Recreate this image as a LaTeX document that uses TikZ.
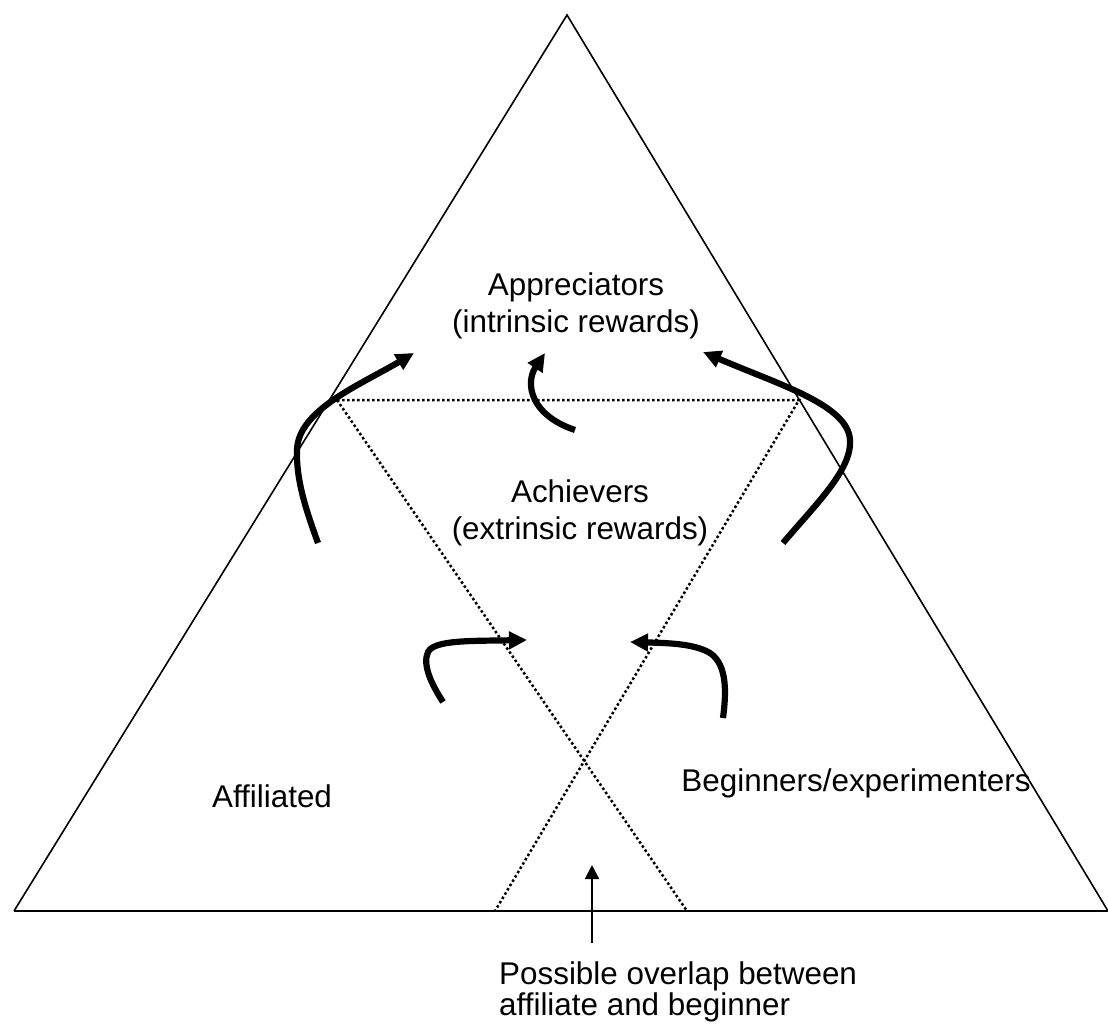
\documentclass[tikz,border=0pt]{standalone}
\usepackage{fontspec}
\setmainfont{Liberation Sans}
\usetikzlibrary{arrows.meta}
\begin{document}
\begin{tikzpicture}[x=1pt,y=-1pt,
  edge/.style={line width=1.6pt, line join=miter},
  ground/.style={line width=2.2pt},
  zone/.style={line width=2.5pt, dash pattern=on 2.5pt off 2.5pt},
  flow/.style={line width=6.2pt, -{Triangle[length=18pt,width=17pt]}},
  pointer/.style={line width=2pt, -{Triangle[length=14pt,width=14pt]}},
  label/.style={font=\fontsize{31.4}{36.7}\selectfont, inner sep=0pt, align=center, anchor=base}]
\useasboundingbox (0,0) rectangle (1108,1023);

% outer triangle: two sides and a heavier base line
\coordinate (apex) at (567,15);
\coordinate (bl) at (14,911);
\coordinate (br) at (1108,911);
\draw[edge] (bl) -- (apex) -- (br);
\draw[ground] (bl) -- (br);

% dotted inner zones
\coordinate (tl) at (337,400);
\coordinate (tr) at (799,400);
\coordinate (fl) at (495,911);
\coordinate (fr) at (687,911);
\draw[zone] (tl) -- (tr) -- (fl);
\draw[zone] (tl) -- (fr);

% labels (base anchor sits on the last line)
\node[label] (appr) at (576,332) {Appreciators\\(intrinsic rewards)};
\node[label] (ach) at (580,539) {Achievers\\(extrinsic rewards)};
\node[label] (aff) at (272,807) {Affiliated};
\node[label] (beg) at (856,791) {Beginners/experimenters};
\node[label, align=left, anchor=base west, font=\fontsize{31.4}{31}\selectfont] (overlap) at (499,1015)
  {Possible overlap between\\affiliate and beginner};

% movement arrows
\coordinate (a1s) at (318,543);
\coordinate (a1m) at (297,450);
\coordinate (a1e) at (414,353);
\draw[flow] (a1s) .. controls (306,510) and (296,480) .. (a1m)
  .. controls (298,410) and (360,385) .. (a1e);

\coordinate (a2s) at (575,430);
\coordinate (a2e) at (545,353);
\draw[flow] (a2s) .. controls (530,415) and (525,383) .. (a2e);

\coordinate (a3s) at (783,543);
\coordinate (a3m) at (850,440);
\coordinate (a3e) at (703,352);
\draw[flow] (a3s) .. controls (815,505) and (852,470) .. (a3m)
  .. controls (848,405) and (780,385) .. (a3e);

\coordinate (a4s) at (443,702);
\coordinate (a4m) at (428,652);
\coordinate (a4e) at (527,640);
\draw[flow] (a4s) .. controls (432,685) and (422,665) .. (a4m)
  .. controls (434,640) and (470,641) .. (a4e);

\coordinate (a5s) at (723,718);
\coordinate (a5m) at (710,653);
\coordinate (a5e) at (630,642);
\draw[flow] (a5s) .. controls (726,695) and (728,665) .. (a5m)
  .. controls (695,644) and (670,643) .. (a5e);

% pointer to the overlap region
\coordinate (ps) at (592,943);
\coordinate (pe) at (592,865);
\draw[pointer] (ps) -- (pe);
\end{tikzpicture}
\end{document}
